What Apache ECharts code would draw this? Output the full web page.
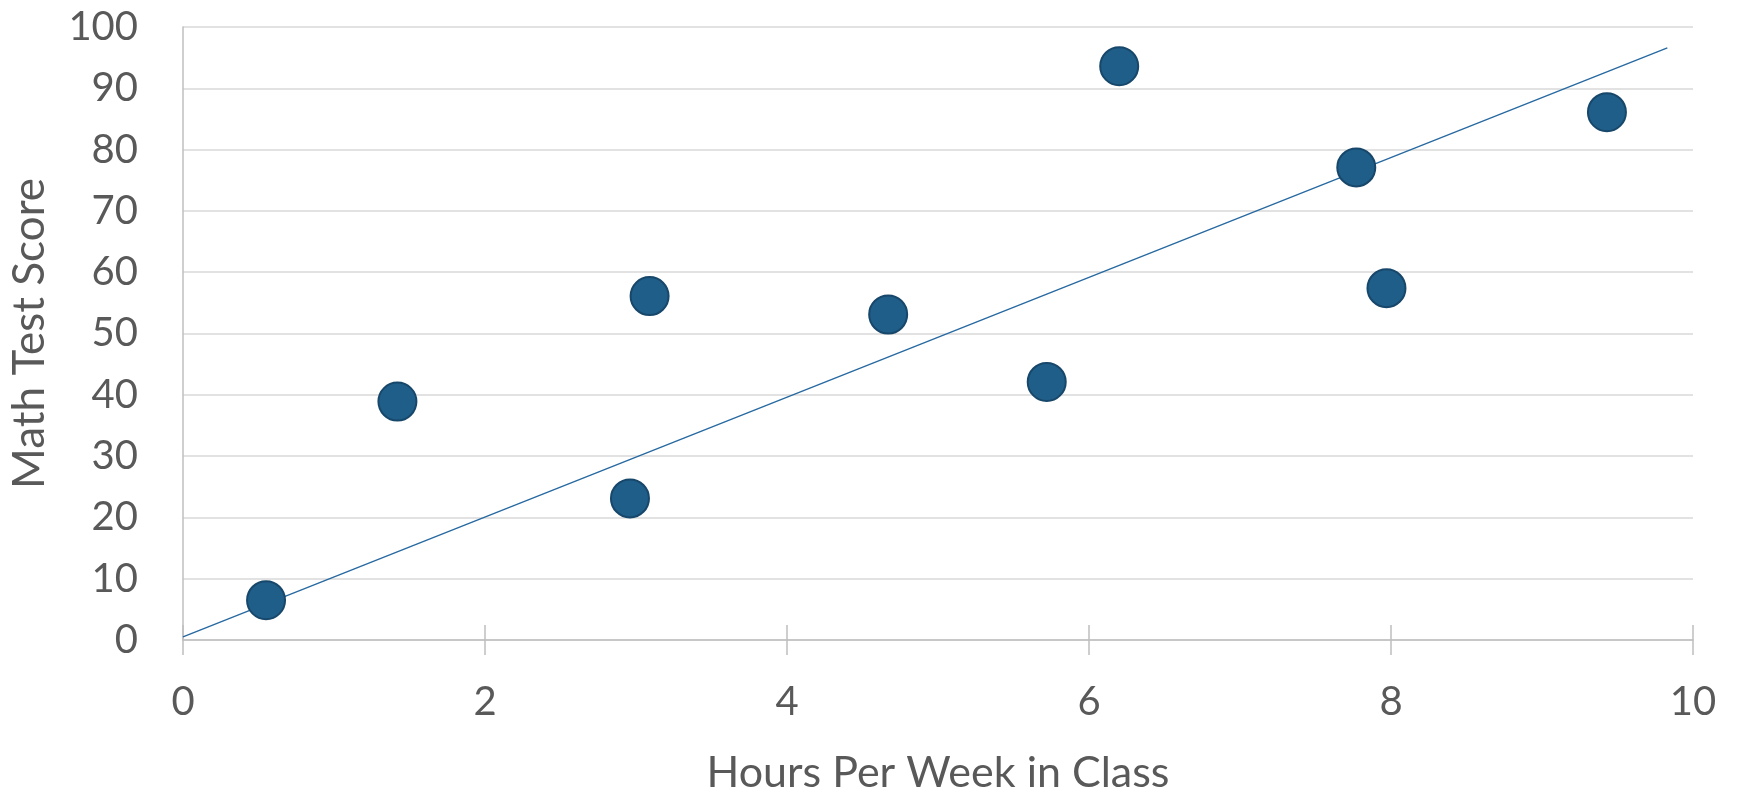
<!DOCTYPE html>
<html>
<head>
<meta charset="utf-8">
<script src="https://cdn.jsdelivr.net/npm/echarts@6/dist/echarts.min.js"></script>
<style>
html,body{margin:0;padding:0;background:#fff;}
#chart{width:1737px;height:800px;}
</style>
</head>
<body>
<div id="chart"></div>
<script>
// Data
const hours  = [0.55, 1.42, 2.96, 3.09, 4.67, 5.72, 6.20, 7.77, 7.97, 9.43];
const scores = [6.5, 38.9, 23.1, 56.1, 53.1, 42.1, 93.6, 77.1, 57.4, 86.1];
const trendX = [0, 9.83];
const trendY = [0.5, 96.6];
const xTicks = [0, 2, 4, 6, 8, 10];
const yTicks = [0, 10, 20, 30, 40, 50, 60, 70, 80, 90, 100];
const xTitle = 'Hours Per Week in Class';
const yTitle = 'Math Test Score';

const points = hours.map((h, i) => [h, scores[i]]);
const trend = trendX.map((x, i) => [x, trendY[i]]);

const FONT = 'Lato';
const TXT = '#595959';

const chart = echarts.init(document.getElementById('chart'), null, {renderer: 'canvas'});
chart.setOption({
  animation: false,
  backgroundColor: '#ffffff',
  grid: {left: 182, right: 44, top: 27, bottom: 148, containLabel: false},
  xAxis: [{
    type: 'value', min: xTicks[0], max: xTicks[xTicks.length - 1], interval: 2,
    position: 'bottom',
    name: xTitle, nameLocation: 'middle', nameGap: 112,
    nameTextStyle: {fontFamily: FONT, fontSize: 43, color: TXT},
    axisLine: {show: true, onZero: false, lineStyle: {color: '#bfbfbf', width: 1.5}},
    axisTick: {show: true, length: 15, lineStyle: {color: '#bfbfbf', width: 1.5}},
    axisLabel: {fontFamily: FONT, fontSize: 40, color: TXT, margin: 42},
    splitLine: {show: false}
  }, {
    type: 'value', min: xTicks[0], max: xTicks[xTicks.length - 1], interval: 2,
    position: 'bottom', gridIndex: 0,
    axisLine: {show: false},
    axisTick: {show: true, inside: true, length: 15, lineStyle: {color: '#bfbfbf', width: 1.5}},
    axisLabel: {show: false},
    splitLine: {show: false}
  }],
  yAxis: {
    type: 'value', min: yTicks[0], max: yTicks[yTicks.length - 1], interval: 10,
    name: yTitle, nameLocation: 'middle', nameGap: 131,
    nameTextStyle: {fontFamily: FONT, fontSize: 44, color: TXT},
    axisLine: {show: true, lineStyle: {color: '#bfbfbf', width: 1.5}},
    axisTick: {show: false},
    axisLabel: {fontFamily: FONT, fontSize: 40, color: TXT, margin: 45},
    splitLine: {show: true, lineStyle: {color: '#d9d9d9', width: 1.5}}
  },
  series: [{
    type: 'line',
    data: trend,
    showSymbol: false,
    symbol: 'none',
    lineStyle: {color: '#2668a0', width: 1.3},
    z: 2,
    silent: true
  }, {
    type: 'scatter',
    data: points,
    symbol: 'circle',
    symbolSize: 38,
    itemStyle: {color: '#1f5e89', borderColor: '#17476a', borderWidth: 2, opacity: 1},
    z: 3
  }]
});
</script>
</body>
</html>
